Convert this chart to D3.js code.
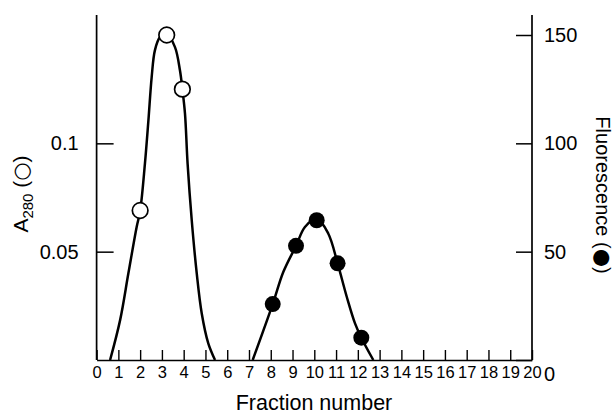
<!DOCTYPE html>
<html>
<head>
<meta charset="utf-8">
<script src="https://cdn.jsdelivr.net/npm/d3@7"></script>
<style>
  html, body { margin: 0; padding: 0; background: #fff; }
  svg { display: block; font-family: "Liberation Sans", Arial, Helvetica, sans-serif; }
</style>
</head>
<body>
<svg id="chart" width="615" height="416"></svg>
<script>
// ---- data ----
const fractionTicks = [0,1,2,3,4,5,6,7,8,9,10,11,12,13,14,15,16,17,18,19,20];
const a280Ticks = [0.05, 0.1];
const fluorTicks = [0, 50, 100, 150];

// measured points (A280, open circles)
const a280Fraction = [2.0, 3.22, 3.94];
const a280Values   = [0.069, 0.150, 0.125];

// measured points (fluorescence, filled circles)
const fluorFraction = [8.09, 9.16, 10.11, 11.07, 12.16];
const fluorValues   = [25.8, 52.7, 64.5, 44.6, 10.3];

// hand-drawn smooth curves
const a280CurveX = [0.62, 1.08, 1.46, 1.84, 2.0, 2.22, 2.38, 2.53, 2.68, 2.91, 3.22, 3.6, 3.83, 3.94, 4.06, 4.18, 4.37, 4.6, 4.83, 5.13, 5.44];
const a280CurveY = [0, 0.0184, 0.040, 0.0614, 0.0688, 0.0906, 0.1106, 0.1306, 0.143, 0.149, 0.1505, 0.1444, 0.1336, 0.125, 0.1137, 0.0906, 0.0645, 0.040, 0.0215, 0.0077, 0];
const fluorCurveX = [7.17, 8.09, 8.58, 9.16, 9.57, 10.11, 10.64, 11.07, 11.49, 11.87, 12.16, 12.71];
const fluorCurveY = [0, 25.8, 40.7, 52.7, 61.4, 65.3, 58.4, 44.6, 29.2, 16.9, 10.3, 0];

const xLabel = "Fraction number";
const rightLabelText = "Fluorescence";

// ---- layout ----
const mLeft = 96.6, mRight = 532, mBottom = 360, mTop = 35, axisTop = 15;
const svg = d3.select("#chart");

const x  = d3.scaleLinear().domain([0, 20]).range([mLeft, mRight]);
const yA = d3.scaleLinear().domain([0, 0.15]).range([mBottom, mTop]);
const yF = d3.scaleLinear().domain([0, 150]).range([mBottom, mTop]);

// axis frame lines (left, right)
svg.append("line").attr("x1", mLeft).attr("x2", mLeft).attr("y1", axisTop).attr("y2", mBottom)
  .attr("stroke", "#000").attr("stroke-width", 1.7);
svg.append("line").attr("x1", mRight).attr("x2", mRight).attr("y1", axisTop).attr("y2", mBottom)
  .attr("stroke", "#000").attr("stroke-width", 1.7);

// bottom axis
const gx = svg.append("g").attr("transform", `translate(0,${mBottom})`)
  .call(d3.axisBottom(x).tickValues(fractionTicks).tickSizeInner(-10).tickSizeOuter(0).tickPadding(6).tickFormat(d3.format("d")));
gx.select(".domain").attr("stroke-width", 1.7);
gx.selectAll(".tick line").attr("stroke-width", 1.4);
gx.selectAll(".tick text").attr("font-size", 16.5).attr("font-family", "Liberation Sans, Arial, sans-serif").attr("fill", "#000");

// left axis
const gl = svg.append("g").attr("transform", `translate(${mLeft},0)`)
  .call(d3.axisLeft(yA).tickValues(a280Ticks).tickSizeInner(-17).tickSizeOuter(0).tickPadding(18).tickFormat(d => String(d)));
gl.select(".domain").remove();
gl.selectAll(".tick line").attr("stroke-width", 1.5);
gl.selectAll(".tick text").attr("font-size", 20).attr("font-family", "Liberation Sans, Arial, sans-serif").attr("fill", "#000");

// right axis
const gr = svg.append("g").attr("transform", `translate(${mRight},0)`)
  .call(d3.axisRight(yF).tickValues(fluorTicks).tickSizeInner(-16).tickSizeOuter(0).tickPadding(12).tickFormat(d3.format("d")));
gr.select(".domain").remove();
gr.selectAll(".tick line").attr("stroke-width", 1.5);
gr.selectAll(".tick text").attr("font-size", 20).attr("font-family", "Liberation Sans, Arial, sans-serif").attr("fill", "#000")
  .attr("dy", d => d === 0 ? "1.0em" : "0.32em");

// curves
const lineA = d3.line().x(d => x(d[0])).y(d => yA(d[1])).curve(d3.curveCatmullRom.alpha(0.5));
const lineF = d3.line().x(d => x(d[0])).y(d => yF(d[1])).curve(d3.curveCatmullRom.alpha(0.5));
svg.append("path").datum(d3.zip(a280CurveX, a280CurveY)).attr("d", lineA)
  .attr("fill", "none").attr("stroke", "#000").attr("stroke-width", 2.5);
svg.append("path").datum(d3.zip(fluorCurveX, fluorCurveY)).attr("d", lineF)
  .attr("fill", "none").attr("stroke", "#000").attr("stroke-width", 2.5);

// points
svg.append("g").selectAll("circle").data(d3.zip(a280Fraction, a280Values)).join("circle")
  .attr("cx", d => x(d[0])).attr("cy", d => yA(d[1])).attr("r", 7.8)
  .attr("fill", "#fff").attr("stroke", "#000").attr("stroke-width", 1.7);
svg.append("g").selectAll("circle").data(d3.zip(fluorFraction, fluorValues)).join("circle")
  .attr("cx", d => x(d[0])).attr("cy", d => yF(d[1])).attr("r", 8)
  .attr("fill", "#000");

// axis titles
svg.append("text").attr("x", 314).attr("y", 410).attr("text-anchor", "middle")
  .attr("font-size", 21.5).attr("fill", "#000").text(xLabel);

const tl = svg.append("text").attr("transform", "translate(28,194) rotate(-90)")
  .attr("text-anchor", "middle").attr("font-size", 21).attr("fill", "#000");
tl.append("tspan").text("A");
tl.append("tspan").attr("font-size", 15).attr("dy", 5).text("280");
tl.append("tspan").attr("dy", -5).text(" (");
tl.append("tspan").attr("font-family", "DejaVu Sans").attr("font-size", 21).text("\u25CB");
tl.append("tspan").text(")");

const tr = svg.append("text").attr("transform", "translate(596,195) rotate(90)")
  .attr("text-anchor", "middle").attr("font-size", 20).attr("fill", "#000");
tr.append("tspan").text(rightLabelText + " (");
tr.append("tspan").attr("font-family", "DejaVu Sans").attr("font-size", 21).text("\u25CF");
tr.append("tspan").text(")");
</script>
</body>
</html>
